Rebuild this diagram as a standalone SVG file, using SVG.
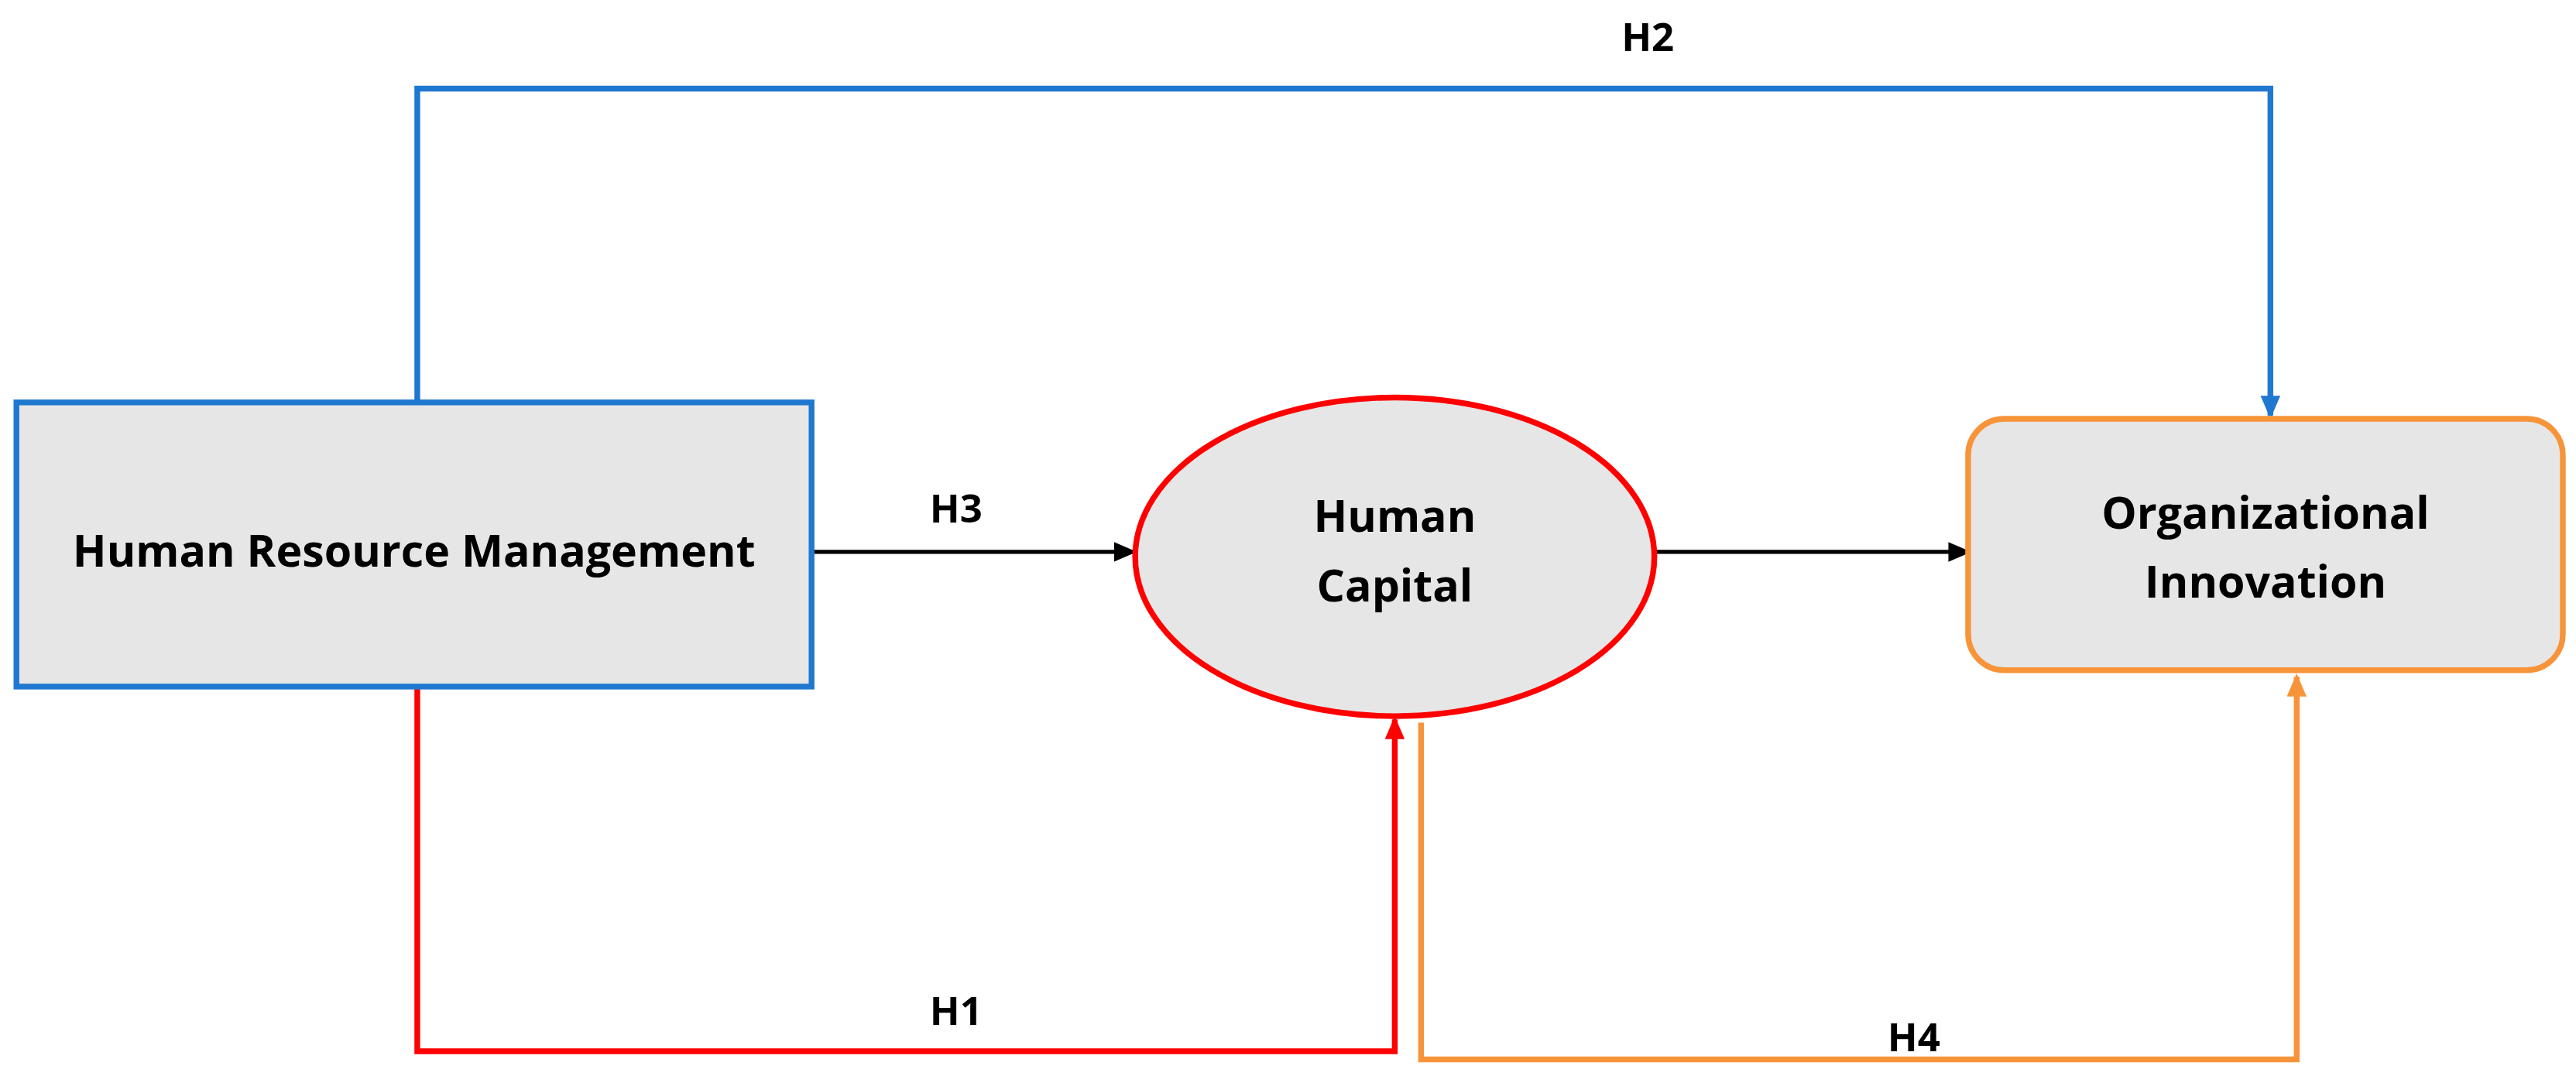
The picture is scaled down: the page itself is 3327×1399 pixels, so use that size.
<svg xmlns="http://www.w3.org/2000/svg" width="3327" height="1399" viewBox="0 0 3327 1399">
<style>
text{font-family:"Open Sans","Liberation Sans",sans-serif;font-weight:bold;fill:#000;text-anchor:middle}
.n{font-size:27px}.l{font-size:24px}
.c{fill:none}
</style>
<defs>
<marker id="ak" markerWidth="14" markerHeight="12" refX="12" refY="6" orient="auto" markerUnits="userSpaceOnUse"><path d="M0,0L14,6L0,12z" fill="#000"/></marker>
<marker id="ab" markerWidth="14" markerHeight="12" refX="12" refY="6" orient="auto" markerUnits="userSpaceOnUse"><path d="M0,0L14,6L0,12z" fill="#1F78CF"/></marker>
<marker id="ar" markerWidth="14" markerHeight="12" refX="12" refY="6" orient="auto" markerUnits="userSpaceOnUse"><path d="M0,0L14,6L0,12z" fill="#FF0000"/></marker>
<marker id="ao" markerWidth="14" markerHeight="12" refX="12" refY="6" orient="auto" markerUnits="userSpaceOnUse"><path d="M0,0L14,6L0,12z" fill="#F7943A"/></marker>
</defs>
<rect width="3327" height="1399" fill="#fff"/>
<g transform="scale(2.1218)">
<g id="connectors">
<polyline class="c" stroke="#1F78CF" stroke-width="3.5" points="254,245 254,54 1382,54 1382,253" marker-end="url(#ab)"/>
<polyline class="c" stroke="#000" stroke-width="2.5" points="494,336 690,336" marker-end="url(#ak)"/>
<polyline class="c" stroke="#000" stroke-width="2.5" points="1007,336 1198,336" marker-end="url(#ak)"/>
<polyline class="c" stroke="#FF0000" stroke-width="3.5" points="254,418 254,640 849,640 849,438" marker-end="url(#ar)"/>
<polyline class="c" stroke="#F7943A" stroke-width="3.5" points="865,440 865,645 1398,645 1398,412" marker-end="url(#ao)"/>
<text class="l" x="1003" y="31">H2</text>
<text class="l" x="582" y="318">H3</text>
<text class="l" x="582" y="624">H1</text>
<text class="l" x="1165" y="640">H4</text>
</g>
<g id="hrm"><rect x="10" y="245" width="484" height="173" fill="#E6E6E6" stroke="#1F78CF" stroke-width="3.5"/><text class="n" x="252" y="345">Human Resource Management</text></g>
<g id="hc"><ellipse cx="849" cy="339" rx="158" ry="97" fill="#E6E6E6" stroke="#FF0000" stroke-width="3.5"/><text class="n" x="849" y="324">Human</text><text class="n" x="849" y="366">Capital</text></g>
<g id="oi"><rect x="1198" y="255" width="362" height="153" rx="22" fill="#E6E6E6" stroke="#F7943A" stroke-width="3.5"/><text class="n" x="1379" y="322">Organizational</text><text class="n" x="1379" y="364">Innovation</text></g>
</g>
</svg>
